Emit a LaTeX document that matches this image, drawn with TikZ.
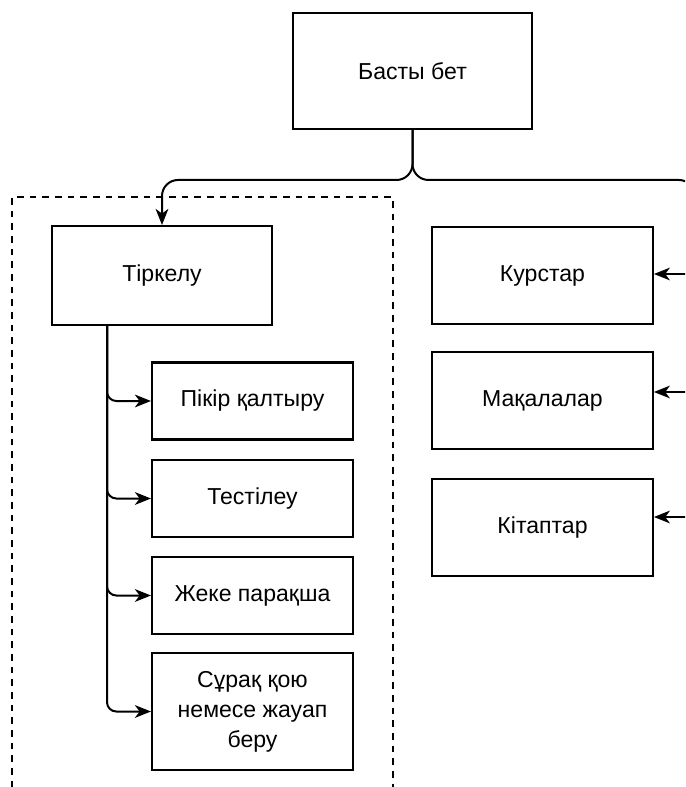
\documentclass[tikz,border=0pt]{standalone}
\usepackage{fontspec}
\setmainfont{Liberation Sans}
\usetikzlibrary{arrows.meta, positioning}

\begin{document}
\begin{tikzpicture}[
        x=0.75pt, y=-0.75pt,
        box/.style={rectangle, draw, line width=1.6pt, align=center, inner sep=0pt, font=\fontsize{17.3}{22.5}\selectfont},
        pagebox/.style={box, minimum width=179pt, minimum height=87pt},
        sectionbox/.style={box, minimum width=165.5pt, minimum height=73pt},
        itembox/.style={box, minimum width=150.75pt, minimum height=57.75pt},
        arrow/.style={-{Stealth[length=12pt, width=9.5pt, inset=3.5pt]}, line width=1.5pt},
        groupline/.style={line width=1.2pt, dash pattern=on 5pt off 4.5pt}
    ]

    \clip (0,0) rectangle (685,787);

    % Main page
    \node (home) [pagebox] at (412.5,71) {Басты бет};

    % Registered user group
    \draw [groupline] (12,800) -- (12,197) -- (393,197) -- (393,800);

    \node (reg) [sectionbox, minimum width=165pt, minimum height=74.25pt] at (162,275.5) {Тіркелу};

    \node (comment) [itembox] at (252.5,401) {Пікір қалтыру};
    \node (test) [itembox] at (252.5,498.5) {Тестілеу};
    \node (profile) [itembox] at (252.5,595.5) {Жеке парақша};
    \node (qa) [itembox, minimum height=87.75pt] at (252.5,711.5) {Сұрақ қою\\немесе жауап\\беру};

    % Public sections
    \node (courses) [sectionbox] at (542.5,275.5) {Курстар};
    \node (articles) [sectionbox] at (542.5,400.5) {Мақалалар};
    \node (books) [sectionbox] at (542.5,527.5) {Кітаптар};

    % Coordinates
    \coordinate (rightbus) at (695,180);
    \coordinate (rightend) at (695,260);
    \coordinate (trunk) at (107,325);
    \coordinate (in1) at (695,274);
    \coordinate (in2) at (695,392);
    \coordinate (in3) at (695,517);

    % Connectors
    \draw [arrow, rounded corners=12pt] (home.south) |- (reg.north |- rightbus) -- (reg.north);
    \draw [line width=1.5pt, rounded corners=12pt] (home.south) |- (rightbus) -- (rightend);

    \draw [arrow] (in1) -- (in1 -| courses.east);
    \draw [arrow] (in2) -- (in2 -| articles.east);
    \draw [arrow] (in3) -- (in3 -| books.east);

    \draw [arrow, rounded corners=7pt] (trunk) |- (comment.west);
    \draw [arrow, rounded corners=7pt] (trunk) |- (test.west);
    \draw [arrow, rounded corners=7pt] (trunk) |- (profile.west);
    \draw [arrow, rounded corners=7pt] (trunk) |- (qa.west);

\end{tikzpicture}
\end{document}
